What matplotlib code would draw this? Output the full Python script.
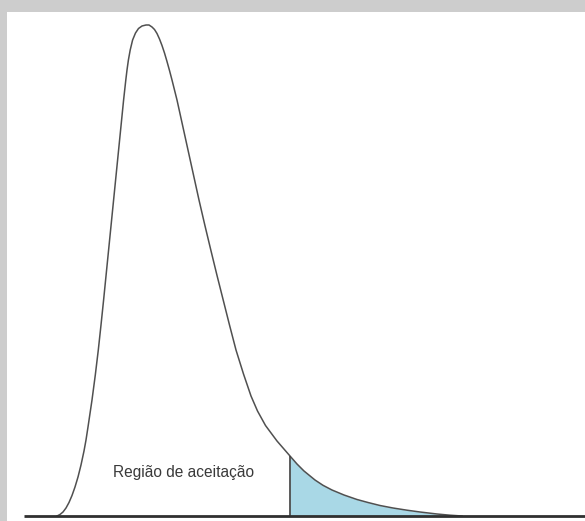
import matplotlib.pyplot as plt
import numpy as np

# curve: x position and pixel row (converted to height below)
curve_x = [57, 60, 63, 66, 69, 72, 75, 78, 81, 84, 86, 88, 92, 95.3, 98.3, 101, 103.6, 108.6, 113.6, 117.6,
           121.6, 123.6, 125.8, 127, 128.4, 130.2, 132.6, 135.5, 138.5, 142, 146, 149,
           152, 154.5, 157, 159.5, 162, 164.5, 167, 169.5, 172, 174.5, 177, 182.5, 188, 193.5, 199,
           204.8, 210.8, 216.9, 223.2, 229.5, 236, 243.5, 251, 257.5, 265.5, 277, 290,
           297, 304, 315, 323, 332, 344, 357, 368, 380, 393, 407, 420, 437, 450, 462]
curve_row = [516, 514.5, 512, 508, 502.5, 495.5, 487, 477, 465, 451, 440, 427, 400, 375, 350, 325, 300, 250, 200, 160,
             120, 100, 80, 70, 60, 50, 40, 33, 28.5, 26, 25, 25,
             27, 29.5, 33.5, 39, 45.5, 53, 61.5, 70.5, 80, 90, 100, 125, 150, 175, 200,
             225, 250, 275, 300, 325, 350, 374, 396, 411, 425.5, 441, 456,
             464, 471, 480, 485.3, 490, 495, 499.5, 502.5, 505.5, 508, 510.2, 512, 514, 515.2, 516]
base_row = 516
cut_x = 290
label = 'Região de aceitação'

curve_x = np.array(curve_x, dtype=float)
curve_h = base_row - np.array(curve_row, dtype=float)

fig = plt.figure(figsize=(5.85, 5.21), dpi=100, facecolor='#cdcdcd')
ax = fig.add_axes([7/585, 0, 578/585, 509/521])
ax.set_facecolor('white')
ax.set_xlim(7, 585)
ax.set_ylim(-5, 504)
ax.set_xticks([])
ax.set_yticks([])
for s in ax.spines.values():
    s.set_visible(False)

tail = curve_x >= cut_x
ax.fill_between(curve_x[tail], 0, curve_h[tail], color='#a9d8e6', lw=0)
ax.plot(curve_x, curve_h, color='#505050', lw=1.1, solid_joinstyle='round')
ax.vlines(cut_x, 0, curve_h[curve_x == cut_x][0], color='#404040', lw=1.2)
ax.hlines(0, 24, 585, color='#303030', lw=2)

ax.text(113, 43, label, ha='left', va='center', fontsize=11.2,
        family='Liberation Sans', color='#3a3a3a')

fig.savefig('out.png', dpi=100, facecolor=fig.get_facecolor())
